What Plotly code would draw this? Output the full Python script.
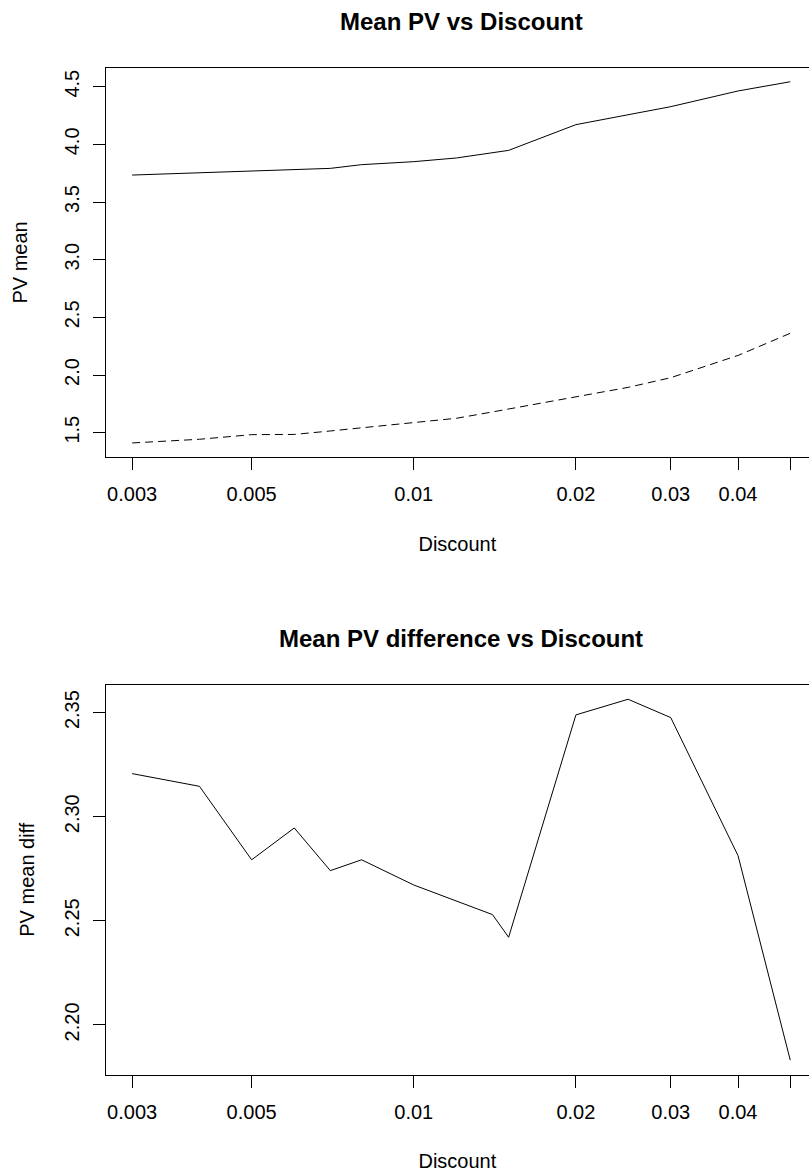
import plotly.graph_objects as go

# ---- data ----
discount = [0.003, 0.004, 0.005, 0.006, 0.007, 0.008, 0.01, 0.012, 0.014, 0.015,
            0.02, 0.025, 0.03, 0.04, 0.05]
pv_mean_a = [3.734, 3.754, 3.769, 3.780, 3.792, 3.824, 3.850, 3.882, 3.928, 3.948,
             4.171, 4.257, 4.327, 4.463, 4.543]
pv_mean_b = [1.411, 1.443, 1.483, 1.485, 1.515, 1.541, 1.584, 1.625, 1.680, 1.705,
             1.812, 1.893, 1.977, 2.170, 2.362]
pv_mean_diff = [2.3207, 2.3146, 2.2793, 2.2946, 2.2741, 2.2793, 2.2672, 2.2597, 2.2530,
                2.2421, 2.3489, 2.3564, 2.3476, 2.2813, 2.1831]

x_tickvals = [0.003, 0.005, 0.01, 0.02, 0.03, 0.04, 0.05]
x_ticktext = ["0.003", "0.005", "0.01", "0.02", "0.03", "0.04", ""]
y1_tickvals = [1.5, 2.0, 2.5, 3.0, 3.5, 4.0, 4.5]
y1_ticktext = ["1.5", "2.0", "2.5", "3.0", "3.5", "4.0", "4.5"]
y2_tickvals = [2.20, 2.25, 2.30, 2.35]
y2_ticktext = ["2.20", "2.25", "2.30", "2.35"]

W, H = 809, 1172
FONT = "Liberation Sans, Arial, Helvetica, sans-serif"

fig = go.Figure()
fig.add_trace(go.Scatter(x=discount, y=pv_mean_a, mode="lines",
                         line=dict(color="black", width=1), xaxis="x", yaxis="y",
                         showlegend=False))
fig.add_trace(go.Scatter(x=discount, y=pv_mean_b, mode="lines",
                         line=dict(color="black", width=1, dash="8px,5px"),
                         xaxis="x", yaxis="y", showlegend=False))
fig.add_trace(go.Scatter(x=discount, y=pv_mean_diff, mode="lines",
                         line=dict(color="black", width=1), xaxis="x2", yaxis="y2",
                         showlegend=False))

x_left_px = 105.8
x_dom = [x_left_px / W, 1.0]
x_range = [-2.5718, -1.2662]

def ydom(top_px, bot_px):
    return [1 - bot_px / H, 1 - top_px / H]

xcommon = dict(type="log", range=x_range, domain=x_dom, tickmode="array",
               tickvals=x_tickvals, ticktext=x_ticktext, ticks="outside",
               ticklen=12, tickwidth=1, tickcolor="black", showline=True,
               linecolor="black", linewidth=1, mirror=True, showgrid=False,
               zeroline=False, tickfont=dict(size=20, color="black", family=FONT),
               ticklabelstandoff=7,
               title=dict(text="Discount", font=dict(size=20, color="black", family=FONT),
                          standoff=32))
ycommon = dict(ticks="outside", ticklen=12, tickwidth=1, tickcolor="black",
               showline=True, linecolor="black", linewidth=1, mirror=False,
               showgrid=False, zeroline=False, tickangle=-90, tickmode="array",
               tickfont=dict(size=20, color="black", family=FONT),
               ticklabelstandoff=6)

fig.update_layout(
    width=W, height=H,
    margin=dict(l=0, r=0, t=0, b=0),
    paper_bgcolor="white", plot_bgcolor="white",
    font=dict(family=FONT, color="black", size=20),
    xaxis=dict(anchor="y", **xcommon),
    yaxis=dict(anchor="x", domain=ydom(67.5, 457.3), range=[1.2867, 4.6665],
               tickvals=y1_tickvals, ticktext=y1_ticktext,
               title=dict(text="PV mean", font=dict(size=20, color="black", family=FONT),
                          standoff=27),
               **ycommon),
    xaxis2=dict(anchor="y2", **xcommon),
    yaxis2=dict(anchor="x2", domain=ydom(684.7, 1074.7), range=[2.1761, 2.3634],
                tickvals=y2_tickvals, ticktext=y2_ticktext,
                title=dict(text="PV mean diff", font=dict(size=20, color="black", family=FONT),
                           standoff=20),
                **ycommon),
    annotations=[
        dict(text="<b>Mean PV vs Discount</b>", xref="paper", yref="paper",
             x=461.2 / W, y=1 - 22 / H, xanchor="center", yanchor="middle",
             showarrow=False, font=dict(size=24, color="black", family=FONT)),
        dict(text="<b>Mean PV difference vs Discount</b>", xref="paper", yref="paper",
             x=461.2 / W, y=1 - 638 / H, xanchor="center", yanchor="middle",
             showarrow=False, font=dict(size=24, color="black", family=FONT)),
    ],
)

fig.write_html("out.html",
               config={"displayModeBar": False, "staticPlot": True},
               post_script="document.body.style.margin='0';document.body.style.overflow='hidden';")
